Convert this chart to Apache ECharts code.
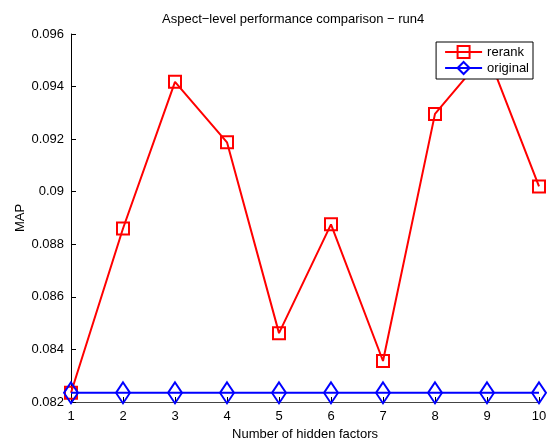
<!DOCTYPE html>
<html>
<head>
<meta charset="utf-8">
<script src="https://cdn.jsdelivr.net/npm/echarts@6/dist/echarts.min.js"></script>
<style>html,body{margin:0;padding:0;background:#fff;}#c{width:547px;height:438px;}</style>
</head>
<body>
<div id="c"></div>
<script>
const categories = ['1','2','3','4','5','6','7','8','9','10'];
const rerank = [0.08235, 0.0886, 0.09418, 0.09188, 0.08462, 0.08876, 0.08356, 0.09296, 0.0953, 0.0902];
const original = [0.08235, 0.08235, 0.08235, 0.08235, 0.08235, 0.08235, 0.08235, 0.08235, 0.08235, 0.08235];
const yTicks = { min: 0.082, max: 0.096, step: 0.002 };

const FONT = 'Liberation Sans, Arial, Helvetica, sans-serif';
const chart = echarts.init(document.getElementById('c'), null, {renderer: 'canvas'});
chart.setOption({
  animation: false,
  backgroundColor: '#fff',
  title: {
    text: 'Aspect\u2212level performance comparison \u2212 run4',
    left: 162, top: 13, padding: 0,
    textStyle: { fontFamily: FONT, fontSize: 13, fontWeight: 'normal', color: '#000' }
  },
  legend: {
    orient: 'vertical', right: 14, top: 42,
    backgroundColor: '#fff', borderColor: '#000', borderWidth: 1,
    padding: [3, 4, 4, 8], itemWidth: 37, itemHeight: 15, itemGap: 2,
    textStyle: { fontFamily: FONT, fontSize: 13, color: '#000' },
    data: ['rerank', 'original']
  },
  grid: { left: 71, right: 8, top: 34, bottom: 36, outerBoundsMode: 'none', containLabel: false },
  xAxis: {
    type: 'category', data: categories, boundaryGap: false,
    name: 'Number of hidden factors', nameLocation: 'middle', nameGap: 26,
    nameTextStyle: { fontFamily: FONT, fontSize: 13, color: '#000' },
    axisLine: { lineStyle: { color: '#444', width: 1 } },
    axisTick: { inside: true, length: 5, alignWithLabel: true, lineStyle: { color: '#000' } },
    axisLabel: { fontFamily: FONT, fontSize: 13, color: '#000', margin: 8 },
    splitLine: { show: false }
  },
  yAxis: {
    type: 'value', min: yTicks.min, max: yTicks.max, interval: yTicks.step,
    name: 'MAP', nameLocation: 'middle', nameGap: 44, nameMoveOverlap: false,
    nameTextStyle: { fontFamily: FONT, fontSize: 13, color: '#000' },
    axisLine: { show: true, lineStyle: { color: '#000', width: 1 } },
    axisTick: { show: true, inside: true, length: 5, lineStyle: { color: '#000' } },
    axisLabel: { fontFamily: FONT, fontSize: 13, color: '#000', margin: 7,
      formatter: v => String(parseFloat(v.toFixed(3))) },
    splitLine: { show: false }
  },
  series: [
    {
      name: 'rerank', type: 'line', data: rerank,
      symbol: 'rect', symbolSize: 12, showAllSymbol: true,
      lineStyle: { color: '#ff0000', width: 2 },
      itemStyle: { color: 'rgba(0,0,0,0)', borderColor: '#ff0000', borderWidth: 2 },
      z: 2
    },
    {
      name: 'original', type: 'line', data: original,
      symbol: 'diamond', symbolSize: [14, 21], showAllSymbol: true,
      lineStyle: { color: '#0000ff', width: 2 },
      itemStyle: { color: 'rgba(0,0,0,0)', borderColor: '#0000ff', borderWidth: 2 },
      z: 3
    }
  ]
});
</script>
</body>
</html>
